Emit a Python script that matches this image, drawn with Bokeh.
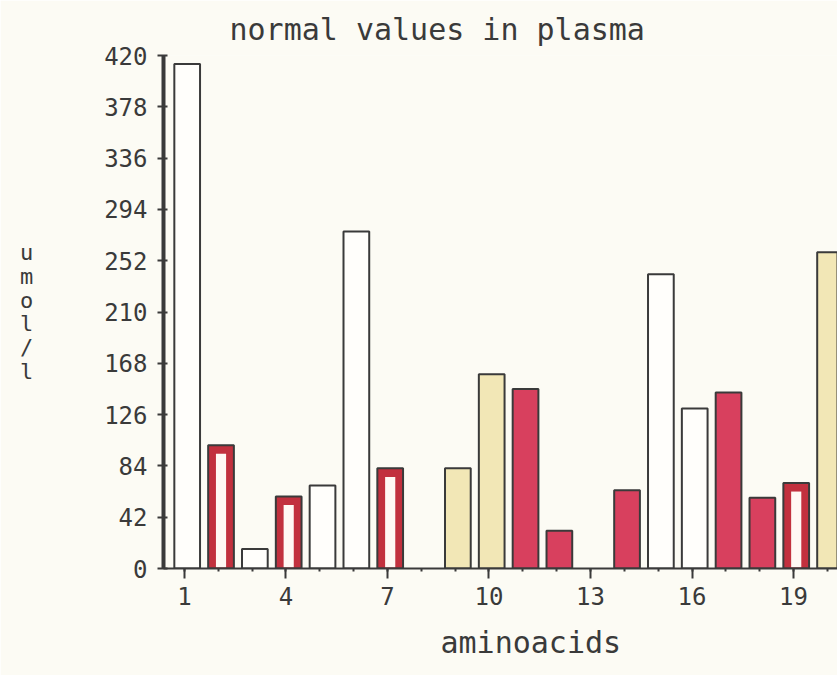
from bokeh.plotting import figure
from bokeh.models import Range1d, FixedTicker, Title
from bokeh.embed import file_html
from bokeh.resources import INLINE

# ---- data ----
aminoacids = list(range(1, 21))
values = [413, 101, 16, 59, 68, 276, 82, 0, 82, 159, 147, 31, 0, 64, 241, 131, 144, 58, 70, 259]
styles = ["white", "redwhite", "white", "redwhite", "white", "white", "redwhite", "none",
          "yellow", "yellow", "red", "red", "none", "red", "white", "white", "red", "red",
          "redwhite", "yellow"]
x_ticks = [1, 4, 7, 10, 13, 16, 19]
y_ticks = [0, 42, 84, 126, 168, 210, 252, 294, 336, 378, 420]

BG = "#fcfbf4"
INK = "#3a3a3a"
FONT = "DejaVu Sans Mono"

p = figure(width=837, height=675, x_range=Range1d(0.38, 20.3), y_range=Range1d(0, 420),
           output_backend="svg", toolbar_location=None,
           min_border_left=163, min_border_right=0, min_border_top=53, min_border_bottom=107)
p.background_fill_color = BG
p.border_fill_color = BG
p.outline_line_color = None
p.xgrid.visible = False
p.ygrid.visible = False

p.title.text = "normal values in plasma"
p.title.text_font = FONT
p.title.text_font_size = "30px"
p.title.text_font_style = "normal"
p.title.text_color = INK
p.title.align = "left"
p.title.offset = 66
p.title.standoff = 18

def sel(kind):
    xs = [a + 0.08 for a, s in zip(aminoacids, styles) if s == kind]
    ts = [v for v, s in zip(values, styles) if s == kind]
    return xs, ts

W = 0.76
xs, ts = sel("white")
p.vbar(x=xs, top=ts, width=W, fill_color="#fffefb", line_color=INK, line_width=2)
xs, ts = sel("yellow")
p.vbar(x=xs, top=ts, width=W, fill_color="#f2e7b6", line_color=INK, line_width=2)
xs, ts = sel("red")
p.vbar(x=xs, top=ts, width=W, fill_color="#d8405e", line_color=INK, line_width=2)
xs, ts = sel("redwhite")
p.vbar(x=xs, top=ts, width=W, fill_color="#c2303e", line_color=INK, line_width=2)
p.vbar(x=xs, top=[t - 7 for t in ts], bottom=1, width=0.3, fill_color="#fff8f4", line_color=None)

# axes
p.xaxis.ticker = FixedTicker(ticks=x_ticks, minor_ticks=aminoacids)
p.yaxis.ticker = FixedTicker(ticks=y_ticks)
for ax in (p.xaxis, p.yaxis):
    ax.axis_line_color = INK
    ax.major_tick_line_color = INK
    ax.minor_tick_line_color = INK
    ax.major_label_text_font = FONT
    ax.major_label_text_font_size = "24px"
    ax.major_label_text_color = INK
    ax.axis_label_text_font = FONT
    ax.axis_label_text_font_style = "normal"
    ax.axis_label_text_color = INK
p.yaxis.axis_line_width = 4
p.yaxis.major_tick_line_width = 2
p.yaxis.major_tick_out = 6
p.yaxis.major_tick_in = 4
p.yaxis.minor_tick_line_color = None
p.yaxis.major_label_standoff = 10
p.yaxis.axis_label = "u\nm\no\nl\n/\nl"
p.yaxis.axis_label_orientation = "horizontal"
p.yaxis.axis_label_text_font_size = "22px"
p.yaxis.axis_label_text_line_height = 0.95
p.yaxis.axis_label_standoff = 68

p.xaxis.axis_line_width = 2
p.xaxis.major_tick_line_width = 2
p.xaxis.major_tick_out = 10
p.xaxis.major_tick_in = 0
p.xaxis.minor_tick_out = 3
p.xaxis.minor_tick_in = 0
p.xaxis.minor_tick_line_width = 2
p.xaxis.major_label_standoff = 8

xt = Title(text="aminoacids", align="left", offset=277, standoff=31, text_font=FONT,
           text_font_size="30px", text_font_style="normal", text_color=INK,
           text_line_height=0.9)
p.add_layout(xt, "below")

open("out.html", "w").write(file_html(p, INLINE))
